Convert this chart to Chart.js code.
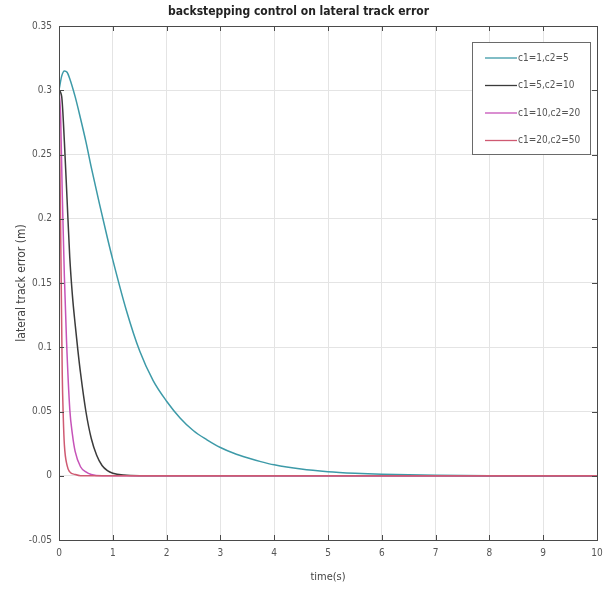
<!DOCTYPE html>
<html>
<head>
<meta charset="utf-8">
<script src="https://cdn.jsdelivr.net/npm/chart.js@4/dist/chart.umd.min.js"></script>
<style>
  html, body { margin: 0; padding: 0; background: #ffffff; }
  #wrap { width: 613px; height: 592px; }
</style>
</head>
<body>
<div id="wrap"><canvas id="c" width="613" height="592"></canvas></div>
<script>
// ---- data ----
const seriesLabels = ["c1=1,c2=5", "c1=5,c2=10", "c1=10,c2=20", "c1=20,c2=50"];
const seriesColors = ["#3d9aa8", "#3b3b3b", "#c653b8", "#cf5a72"];

const t1 = [0, 0.05, 0.1, 0.15, 0.2, 0.3, 0.4, 0.5, 0.6, 0.75, 0.9, 1.0, 1.25, 1.5, 1.75, 2.0, 2.25, 2.5, 2.75, 3.0, 3.25, 3.5, 3.75, 4.0, 4.5, 5.0, 5.5, 6.0, 7.0, 8.0, 9.0, 10.0];
const y1 = [0.300, 0.311, 0.315, 0.314, 0.309, 0.295, 0.278, 0.260, 0.240, 0.212, 0.185, 0.168, 0.129, 0.097, 0.074, 0.058, 0.045, 0.035, 0.028, 0.022, 0.0175, 0.014, 0.011, 0.0085, 0.0052, 0.0032, 0.002, 0.0012, 0.0003, 0, 0, 0];

const t2 = [0, 0.05, 0.1, 0.15, 0.2, 0.25, 0.3, 0.35, 0.4, 0.5, 0.6, 0.7, 0.8, 0.9, 1.0, 1.2, 1.5, 2.0, 10.0];
const y2 = [0.300, 0.295, 0.260, 0.215, 0.170, 0.140, 0.118, 0.098, 0.080, 0.050, 0.029, 0.016, 0.008, 0.004, 0.002, 0.0005, 0, 0, 0];

const t3 = [0, 0.03, 0.06, 0.1, 0.14, 0.2, 0.25, 0.3, 0.4, 0.5, 0.6, 0.8, 10.0];
const y3 = [0.300, 0.280, 0.220, 0.155, 0.105, 0.052, 0.032, 0.019, 0.007, 0.003, 0.001, 0, 0];

const t4 = [0, 0.02, 0.04, 0.06, 0.08, 0.1, 0.15, 0.2, 0.3, 0.4, 10.0];
const y4 = [0.300, 0.230, 0.155, 0.080, 0.045, 0.024, 0.008, 0.003, 0.001, 0, 0];

const xTicks = [0, 1, 2, 3, 4, 5, 6, 7, 8, 9, 10];
const yTicks = [-0.05, 0, 0.05, 0.1, 0.15, 0.2, 0.25, 0.3, 0.35];

const titleText = "backstepping control on lateral track error";
const xTitle = "time(s)";
const yTitle = "lateral track error (m)";

// ---- build ----
const toPts = (ts, ys) => ts.map((t, i) => ({ x: t, y: ys[i] }));
const allT = [t1, t2, t3, t4];
const allY = [y1, y2, y3, y4];

const FONT = "'Liberation Sans Narrow', 'DejaVu Sans Condensed', 'Liberation Sans', sans-serif";

const datasets = seriesLabels.map((lab, i) => ({
  label: lab,
  data: toPts(allT[i], allY[i]),
  borderColor: seriesColors[i],
  backgroundColor: seriesColors[i],
  borderWidth: 1.5,
  pointRadius: 0,
  fill: false,
  cubicInterpolationMode: 'monotone',
  order: 4 - i
}));

const framePlugin = {
  id: 'frame',
  afterDraw(chart) {
    const { ctx, chartArea: a, scales } = chart;
    ctx.save();
    // box
    ctx.strokeStyle = '#4a4a4a';
    ctx.lineWidth = 1;
    ctx.strokeRect(Math.round(a.left) + 0.5, Math.round(a.top) + 0.5,
                   Math.round(a.right - a.left), Math.round(a.bottom - a.top));
    // inner ticks
    ctx.beginPath();
    xTicks.forEach(v => {
      const x = Math.round(scales.x.getPixelForValue(v)) + 0.5;
      ctx.moveTo(x, a.bottom); ctx.lineTo(x, a.bottom - 5);
      ctx.moveTo(x, a.top); ctx.lineTo(x, a.top + 5);
    });
    yTicks.forEach(v => {
      const y = Math.round(scales.y.getPixelForValue(v)) + 0.5;
      ctx.moveTo(a.left, y); ctx.lineTo(a.left + 5, y);
      ctx.moveTo(a.right, y); ctx.lineTo(a.right - 5, y);
    });
    ctx.stroke();

    // legend box
    const lx = 472, ly = 42, lw = 118, lh = 112;
    ctx.fillStyle = '#ffffff';
    ctx.fillRect(lx, ly, lw, lh);
    ctx.strokeStyle = '#6a6a6a';
    ctx.strokeRect(lx + 0.5, ly + 0.5, lw, lh);
    ctx.font = "10px " + FONT;
    ctx.textBaseline = 'middle';
    ctx.textAlign = 'left';
    chart.data.datasets.forEach((ds, i) => {
      const y = 58 + i * 27.5;
      ctx.strokeStyle = ds.borderColor;
      ctx.lineWidth = 1.3;
      ctx.beginPath();
      ctx.moveTo(485, y); ctx.lineTo(517, y);
      ctx.stroke();
      ctx.fillStyle = '#555555';
      ctx.fillText(ds.label, 518, y);
    });
    ctx.restore();
  }
};

new Chart(document.getElementById('c'), {
  type: 'line',
  data: { datasets },
  options: {
    responsive: false,
    animation: false,
    devicePixelRatio: 1,
    layout: { padding: { left: 0, right: 16, top: 0, bottom: 0 } },
    plugins: {
      legend: { display: false },
      tooltip: { enabled: false },
      title: {
        display: true,
        text: titleText,
        color: '#222222',
        font: { family: FONT, size: 12, weight: 'bold', lineHeight: 1.2 },
        padding: { top: 5, bottom: 6.6 }
      }
    },
    scales: {
      x: {
        type: 'linear',
        min: 0, max: 10,
        afterBuildTicks: s => { s.ticks = xTicks.map(v => ({ value: v })); },
        afterFit: s => { s.height = 52; },
        ticks: { color: '#555555', font: { family: FONT, size: 10 }, padding: 7, maxRotation: 0,
                 callback: v => String(v) },
        grid: { color: '#e4e4e4', drawTicks: false },
        border: { display: false },
        title: { display: true, text: xTitle, color: '#444444',
                 font: { family: FONT, size: 11 }, padding: { top: 0, bottom: 8 } }
      },
      y: {
        type: 'linear',
        min: -0.05, max: 0.35,
        afterBuildTicks: s => { s.ticks = yTicks.map(v => ({ value: v })); },
        afterFit: s => { s.width = 59; },
        ticks: { color: '#555555', font: { family: FONT, size: 10 }, padding: 7,
                 callback: v => String(+Number(v).toFixed(2)) },
        grid: { color: '#e4e4e4', drawTicks: false },
        border: { display: false },
        title: { display: true, text: yTitle, color: '#444444',
                 font: { family: FONT, size: 12 }, padding: { top: 15, bottom: 0 } }
      }
    }
  },
  plugins: [framePlugin]
});
</script>
</body>
</html>
